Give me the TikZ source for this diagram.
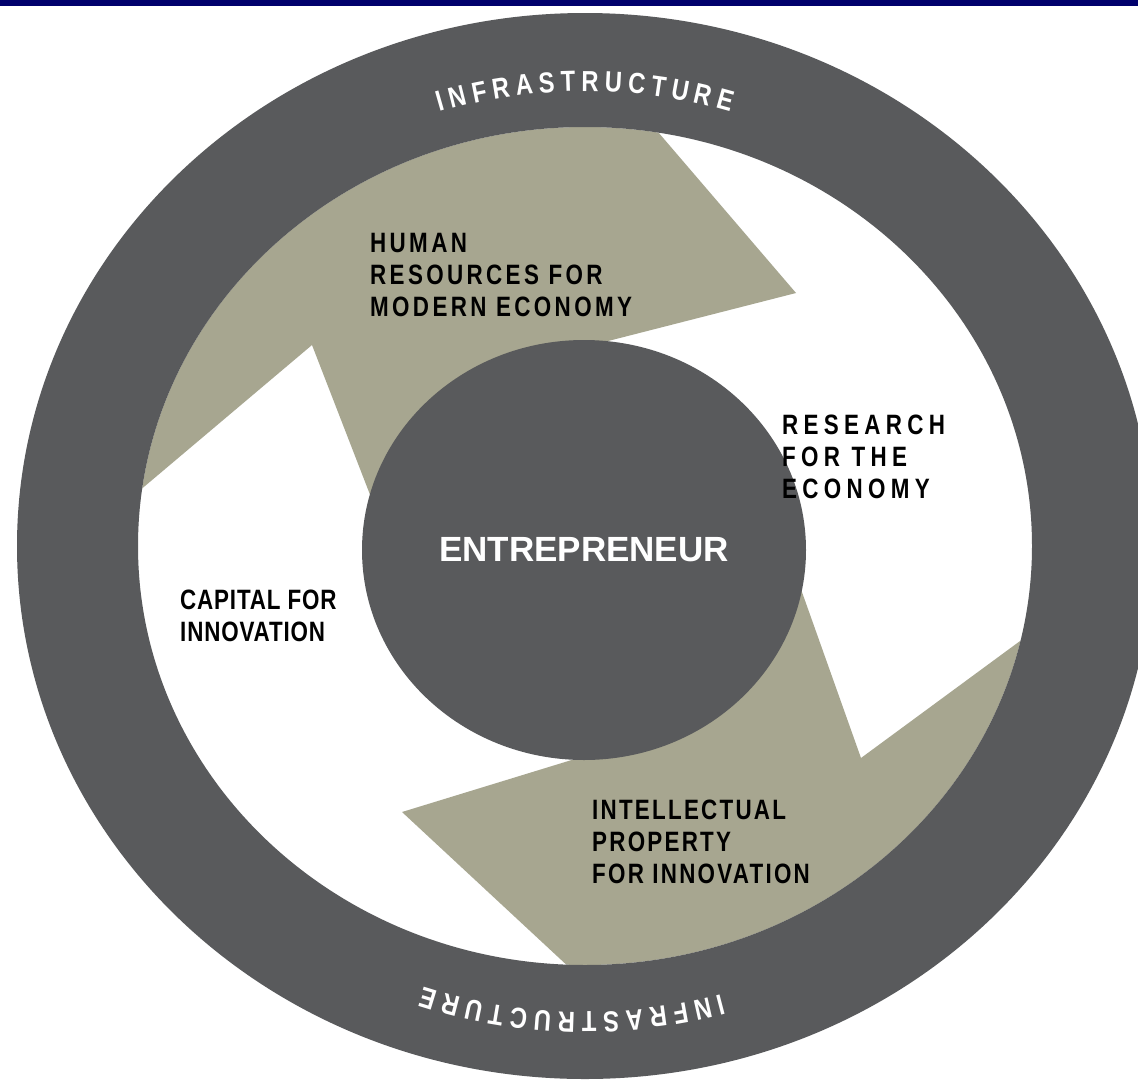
\documentclass[tikz,border=0pt]{standalone}
\usepackage{fontspec}
\setmainfont{Liberation Sans}
\newfontfamily\condA[FakeStretch=0.8,LetterSpace=12]{Liberation Sans}
\newfontfamily\condB[FakeStretch=0.8,LetterSpace=19]{Liberation Sans}
\newfontfamily\condC[FakeStretch=0.8,LetterSpace=3]{Liberation Sans}
\newfontfamily\condD[FakeStretch=0.8,LetterSpace=8]{Liberation Sans}
\newfontfamily\arcfont[FakeStretch=0.82]{Liberation Sans}
\usetikzlibrary{shapes.geometric,decorations.text}
\definecolor{navybar}{RGB}{0,0,108}
\definecolor{ringgrey}{RGB}{89,90,92}
\definecolor{sand}{RGB}{167,166,144}
\newcommand\infrafont{\arcfont\fontsize{29}{29}\selectfont\bfseries}
\begin{document}
\begin{tikzpicture}[x=1pt,y=1pt,
  lbl/.style={font=#1\fontsize{28}{32}\selectfont\bfseries, align=left, inner sep=0pt, text=black, anchor=north west},
  arctext/.style={decorate, decoration={text along path, text={|\infrafont|INFRASTRUCTURE}, text align=fit to path, text color=white}}
]
\useasboundingbox (0,0) rectangle (1138,-1082);
\fill[white] (0,0) rectangle (1138,-1082);
\fill[navybar] (0,0) rectangle (1138,-6);
% sand arrows, clipped to the inside of the ring
\begin{scope}
  \clip (585,-546) ellipse [x radius=447, y radius=419];
  \fill[sand] (312,-345) -- (-189,-768) -- (-200,200) -- (382,190) -- (796,-293)
     -- (522,-363) -- (584,-550) -- (400,-572) -- cycle;
  \fill[sand] (861,-758) -- (1345,-402) -- (1400,-1300) -- (910,-1284) -- (402,-812)
     -- (663,-732) -- (584,-550) -- (792,-564) -- cycle;
\end{scope}
% ring
\fill[ringgrey, even odd rule] (585,-546) ellipse [x radius=568, y radius=533]
  (585,-546) ellipse [x radius=447, y radius=419];
% hub
\node[ellipse, fill=ringgrey, minimum width=444pt, minimum height=420pt, inner sep=0pt,
  text=white, font=\fontsize{35}{35}\selectfont\bfseries] (hub) at (584,-550) {ENTREPRENEUR};
% labels
\node[lbl=\condA] (human) at (370,-233) {HUMAN\\RESOURCES FOR\\MODERN ECONOMY};
\node[lbl=\condB] (research) at (782,-415) {RESEARCH\\FOR THE\\ECONOMY};
\node[lbl=\condC] (capital) at (180,-590) {CAPITAL FOR\\INNOVATION};
\node[lbl=\condD] (ip) at (592,-800) {INTELLECTUAL\\PROPERTY\\FOR INNOVATION};
% ring texts
\path[arctext] (439.8,-112) arc[start angle=107.5, end angle=72.5, x radius=483, y radius=451];
\path[arctext] (721.7,-994) arc[start angle=-74, end angle=-109, x radius=496, y radius=466];
\end{tikzpicture}
\end{document}
